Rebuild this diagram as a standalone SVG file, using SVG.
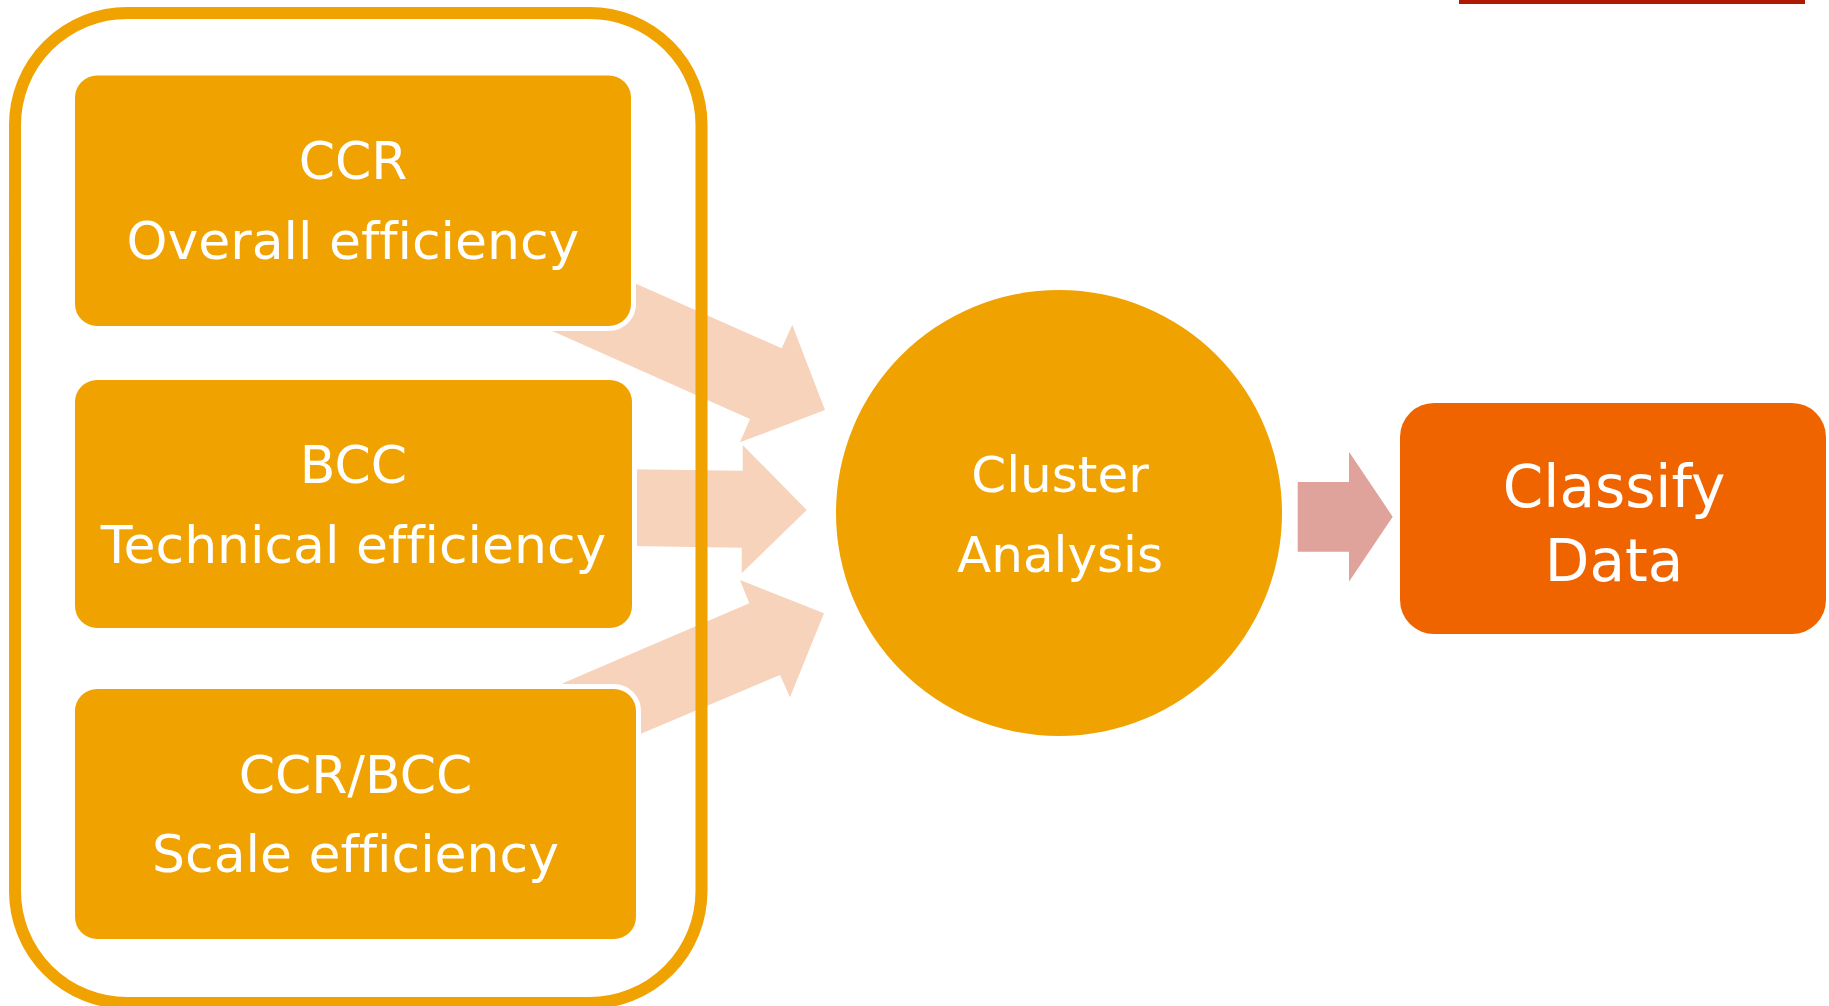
<svg xmlns="http://www.w3.org/2000/svg" width="1829" height="1006" viewBox="0 0 1829 1006">
<style>
.box{fill:#F0A200;stroke:#FFFFFF;stroke-width:10;paint-order:stroke}
.txt{font-family:"DejaVu Sans","Liberation Sans",sans-serif;font-weight:normal;font-variant-ligatures:none;fill:#FFFFFF;text-anchor:middle}
.arrow{fill:#F6D3BA}
</style>
<rect x="0" y="0" width="1829" height="1006" fill="#FFFFFF"/>
<rect x="1459" y="0" width="346" height="4" fill="#AE1A04"/>
<g id="connectors">
<polygon class="arrow" points="583.6,260.6 781.7,348.3 792.3,325 825,410 740,442.3 750,419 552.3,331"/>
<polygon class="arrow" points="630,469.2 742.7,470.7 742.7,445 806.7,510 741.7,573.3 741.7,547.7 630,546"/>
<polygon class="arrow" points="562.7,683.3 749.3,603.3 740,580 824,613.3 790,697.3 780,675 593,754"/>
<polygon fill="#DFA39C" points="1297.7,482 1349,482 1349,451.7 1392.7,516.7 1349,581.7 1349,551.7 1297.7,551.7"/>
</g>
<g id="frame">
<rect x="15" y="13" width="686.5" height="990" rx="112" ry="112" fill="none" stroke="#F0A200" stroke-width="12"/>
</g>
<g id="node-ccr">
<rect class="box" x="75" y="75.5" width="556" height="250.5" rx="22"/>
<text class="txt" x="353" y="179" font-size="52">CCR</text>
<text class="txt" x="353" y="259" font-size="52">Overall efficiency</text>
</g>
<g id="node-bcc">
<rect class="box" x="75" y="380" width="557" height="248" rx="22"/>
<text class="txt" x="353.5" y="482.5" font-size="52">BCC</text>
<text class="txt" x="353.5" y="562.5" font-size="52">Technical efficiency</text>
</g>
<g id="node-scale">
<rect class="box" x="75" y="689" width="561" height="250" rx="22"/>
<text class="txt" x="355.5" y="793" font-size="52">CCR/BCC</text>
<text class="txt" x="355.5" y="872" font-size="52">Scale efficiency</text>
</g>
<g id="node-cluster">
<circle cx="1059" cy="513" r="223" fill="#F0A200"/>
<text class="txt" x="1060" y="491.5" font-size="50">Cluster</text>
<text class="txt" x="1060" y="571.5" font-size="50">Analysis</text>
</g>
<g id="node-classify">
<rect x="1400" y="403" width="426" height="231" rx="34" fill="#F06400"/>
<text class="txt" x="1614" y="506.5" font-size="58">Classify</text>
<text class="txt" x="1614" y="580.5" font-size="58">Data</text>
</g>
</svg>
